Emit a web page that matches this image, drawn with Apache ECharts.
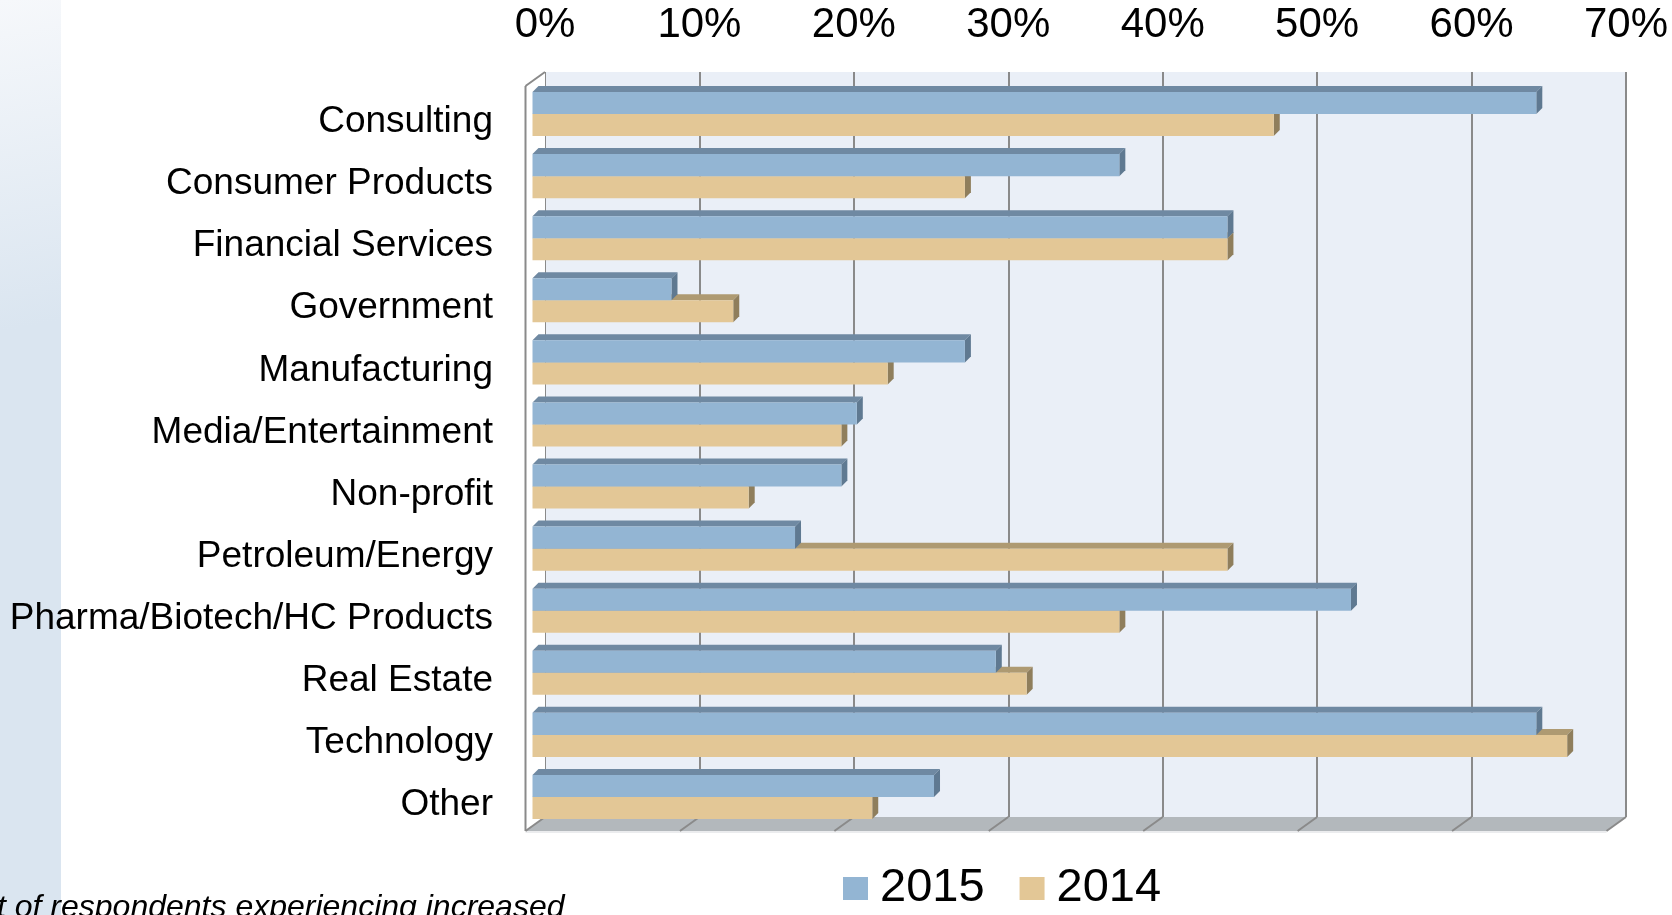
<!DOCTYPE html>
<html>
<head>
<meta charset="utf-8">
<title>Industries</title>
<script src="https://cdn.jsdelivr.net/npm/echarts@6/dist/echarts.min.js"></script>
<style>
  html, body { margin: 0; padding: 0; background: #fff; }
  #main { width: 1672px; height: 915px; }
</style>
</head>
<body>
<div id="main"></div>
<script>
// data (percent)
const categories = ['Consulting', 'Consumer Products', 'Financial Services', 'Government',
  'Manufacturing', 'Media/Entertainment', 'Non-profit', 'Petroleum/Energy',
  'Pharma/Biotech/HC Products', 'Real Estate', 'Technology', 'Other']
const values2015 = [65, 38, 45, 9, 28, 21, 20, 17, 53, 30, 65, 26]
const values2014 = [48, 28, 45, 13, 23, 20, 14, 45, 38, 32, 67, 22]
const seriesNames = ['2015', '2014']
const xMin = 0
const xMax = 70
const xStep = 10
const footnote = 't of respondents experiencing increased'

const FONT = '"Liberation Sans", Arial, sans-serif'

// fake 3d look
const wallDx = 19.5
const wallDy = 14
const barShiftX = -12.5
const barShiftY = 11
const barDepth = 6

const colors = {
  '2015': { front: '#93b5d3', top: '#6f89a2', side: '#5f7991' },
  '2014': { front: '#e3c796', top: '#ae9a72', side: '#8f7e5c' }
}

function barRenderer(name, upper) {
  const c = colors[name]
  return function (params, api) {
    const v = api.value(0)
    const i = api.value(1)
    const start = api.coord([0, i])
    const end = api.coord([v, i])
    const band = api.size([0, 1])[1]
    const h = band * 0.355
    const cy = start[1] + barShiftY
    const y0 = upper ? cy - h : cy
    const y1 = y0 + h
    const x0 = start[0] + barShiftX
    const x1 = end[0] + barShiftX
    const d = barDepth
    return {
      type: 'group',
      children: [
        { type: 'polygon', shape: { points: [[x0, y0], [x0 + d, y0 - d], [x1 + d, y0 - d], [x1, y0]] }, style: { fill: c.top } },
        { type: 'polygon', shape: { points: [[x1, y0], [x1 + d, y0 - d], [x1 + d, y1 - d], [x1, y1]] }, style: { fill: c.side } },
        { type: 'rect', shape: { x: x0, y: y0, width: x1 - x0, height: h }, style: { fill: c.front } }
      ]
    }
  }
}

// floor and left wall drawn from the grid's own scales
function frameRenderer(params, api) {
  const band = api.size([0, 1])[1]
  const top = api.coord([xMin, 0])[1] - band / 2
  const bottom = api.coord([xMin, categories.length - 1])[1] + band / 2
  const xL = api.coord([xMin, 0])[0]
  const xR = api.coord([xMax, 0])[0]
  const line = { stroke: '#8a8a8a', lineWidth: 2 }
  const children = [
    { type: 'polygon', shape: { points: [[xL, bottom], [xR, bottom], [xR - wallDx, bottom + wallDy], [xL - wallDx, bottom + wallDy]] }, style: { fill: '#b3b8bc' } },
    { type: 'polygon', shape: { points: [[xL, top], [xL, bottom], [xL - wallDx, bottom + wallDy], [xL - wallDx, top + wallDy]] }, style: { fill: '#ffffff' } },
    { type: 'line', shape: { x1: xL - wallDx, y1: top + wallDy, x2: xL - wallDx, y2: bottom + wallDy }, style: line },
    { type: 'line', shape: { x1: xL - wallDx, y1: top + wallDy, x2: xL, y2: top }, style: line },
    { type: 'line', shape: { x1: xL - wallDx, y1: bottom + wallDy + 1, x2: xR - wallDx, y2: bottom + wallDy + 1 }, style: { stroke: '#e4e6e8', lineWidth: 1.5 } }
  ]
  for (let t = xMin; t <= xMax; t += xStep) {
    const x = api.coord([t, 0])[0]
    children.push({ type: 'line', shape: { x1: x, y1: bottom, x2: x - wallDx, y2: bottom + wallDy }, style: line })
  }
  return { type: 'group', children }
}

var myChart = echarts.init(document.getElementById('main'))

const option = {
  backgroundColor: '#ffffff',
  animation: false,
  graphic: [
    {
      type: 'rect',
      z: -10,
      shape: { x: 0, y: 0, width: 61, height: 915 },
      style: {
        fill: new echarts.graphic.LinearGradient(0, 0, 1, 0.35, [
          { offset: 0, color: '#f6f8fb' },
          { offset: 1, color: '#dae5f0' }
        ])
      }
    },
    {
      type: 'text',
      z: 10,
      x: -3,
      y: 908,
      style: {
        text: footnote,
        font: 'italic 32px ' + FONT,
        fill: '#000',
        verticalAlign: 'middle'
      }
    }
  ],
  legend: {
    data: seriesNames,
    left: 843,
    top: 865,
    padding: 0,
    itemWidth: 25,
    itemHeight: 23,
    itemGap: 35,
    icon: 'rect',
    textStyle: { fontSize: 47, lineHeight: 47, color: '#000', fontFamily: FONT, padding: [0, 0, 0, 7] }
  },
  grid: {
    left: 545,
    right: 46,
    top: 72,
    bottom: 98,
    show: true,
    backgroundColor: '#eaeff7',
    borderWidth: 0
  },
  xAxis: {
    type: 'value',
    position: 'top',
    min: xMin,
    max: xMax,
    interval: xStep,
    axisLine: { show: false },
    axisTick: { show: false },
    axisLabel: {
      formatter: '{value}%',
      fontSize: 42,
      lineHeight: 42,
      color: '#000',
      fontFamily: FONT,
      verticalAlign: 'middle',
      margin: 47
    },
    splitLine: { show: true, lineStyle: { color: '#8a8a8a', width: 2 } }
  },
  yAxis: {
    type: 'category',
    inverse: true,
    data: categories,
    axisLine: { show: false },
    axisTick: { show: false },
    axisLabel: {
      fontSize: 37,
      lineHeight: 38,
      color: '#000',
      fontFamily: FONT,
      margin: 52,
      verticalAlign: 'top'
    }
  },
  series: [
    {
      name: 'frame',
      type: 'custom',
      z: 1,
      silent: true,
      clip: false,
      renderItem: frameRenderer,
      data: [[0, 0]]
    },
    {
      name: seriesNames[0],
      type: 'custom',
      z: 3,
      clip: false,
      itemStyle: { color: colors['2015'].front },
      renderItem: barRenderer('2015', true),
      encode: { x: 0, y: 1 },
      data: values2015.map((v, i) => [v, i])
    },
    {
      name: seriesNames[1],
      type: 'custom',
      z: 2,
      clip: false,
      itemStyle: { color: colors['2014'].front },
      renderItem: barRenderer('2014', false),
      encode: { x: 0, y: 1 },
      data: values2014.map((v, i) => [v, i])
    }
  ]
}

myChart.setOption(option)
</script>
</body>
</html>
